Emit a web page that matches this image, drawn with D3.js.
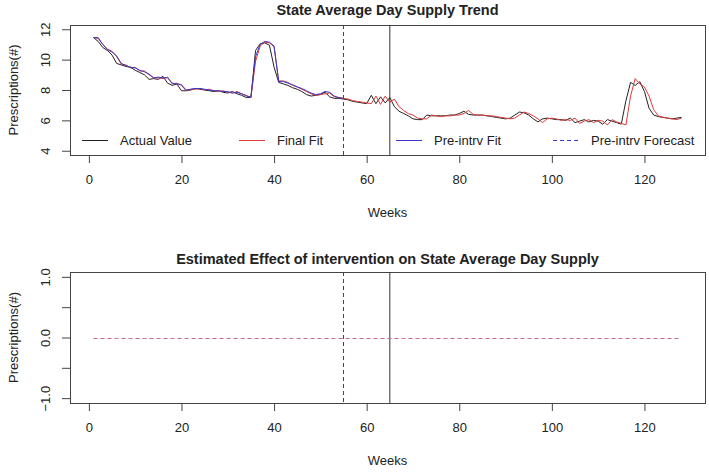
<!DOCTYPE html>
<html><head><meta charset="utf-8">
<script src="https://cdn.jsdelivr.net/npm/d3@7"></script>
<style>body{margin:0;background:#fff}svg{display:block}text{font-family:"Liberation Sans",Arial,sans-serif;fill:#222}</style>
</head><body><svg id="c" width="709" height="473"></svg>
<script>
const weeks = d3.range(1, 129);
const actual = [11.45,11.2,10.8,10.6,10.3,9.75,9.65,9.55,9.5,9.3,9.15,9.0,8.7,8.75,8.7,8.9,8.45,8.3,8.4,7.95,
7.95,8.0,8.1,8.05,8.0,7.95,7.9,7.95,7.85,7.8,7.9,7.75,7.65,7.5,7.5,10.6,11.05,11.1,10.95,9.5,
8.5,8.4,8.3,8.15,8.05,7.9,7.7,7.6,7.65,7.7,7.85,7.55,7.45,7.45,7.4,7.35,7.25,7.2,7.15,7.1,
7.65,7.1,7.55,7.15,7.5,6.9,6.6,6.45,6.3,6.1,6.05,6.05,6.35,6.3,6.3,6.3,6.3,6.35,6.35,6.45,
6.6,6.4,6.35,6.35,6.35,6.3,6.25,6.2,6.15,6.1,6.15,6.35,6.55,6.5,6.35,6.1,5.9,6.1,6.15,6.1,
6.05,6.05,6.0,6.15,5.85,5.95,6.05,5.9,6.0,5.95,5.75,6.05,5.95,5.85,5.75,7.3,8.5,8.3,8.55,7.9,
6.8,6.35,6.25,6.2,6.15,6.1,6.15,6.2];
const finalFit = [11.45,11.4,11.0,10.7,10.55,10.2,9.7,9.65,9.45,9.5,9.25,9.25,9.0,8.8,8.8,8.75,8.85,8.4,8.45,8.3,
7.95,8.05,8.05,8.1,8.0,8.05,7.95,7.9,7.95,7.85,7.8,7.9,7.75,7.65,7.5,9.9,10.9,11.15,11.1,10.85,
8.6,8.6,8.5,8.3,8.2,8.05,7.9,7.75,7.65,7.7,7.75,7.8,7.55,7.5,7.45,7.4,7.3,7.25,7.2,7.15,
7.1,7.6,7.05,7.6,7.2,7.4,6.9,6.65,6.45,6.35,6.15,6.1,6.1,6.35,6.3,6.25,6.3,6.3,6.35,6.35,
6.45,6.65,6.4,6.35,6.35,6.3,6.3,6.25,6.2,6.15,6.1,6.15,6.35,6.55,6.45,6.3,6.1,5.85,6.1,6.15,
6.1,6.0,6.05,6.0,6.15,5.8,5.95,6.05,5.85,6.0,5.95,5.7,6.05,5.9,5.8,5.7,7.6,8.75,8.4,8.2,
7.6,6.7,6.3,6.2,6.15,6.1,6.05,6.15];
const preFit = [11.45,11.45,11.0,10.65,10.5,10.25,9.75,9.6,9.5,9.45,9.3,9.2,9.05,8.8,8.85,8.8,8.8,8.45,8.4,8.35,
8.0,8.05,8.1,8.1,8.05,8.0,7.95,7.95,7.9,7.9,7.8,7.85,7.75,7.6,7.55,10.2,11.0,11.2,11.15,10.9,
8.55,8.55,8.45,8.35,8.2,8.1,7.95,7.8,7.7,7.75,7.9,7.85,7.6,7.5,7.45];
const effect = weeks.map(() => 0);
const xTicks = [0, 20, 40, 60, 80, 100, 120];
const yTicksTop = [4, 6, 8, 10, 12];
const yTicksBot = [-1, -0.5, 0, 0.5, 1];
const yLabelsBot = [-1, 0, 1];
const forecastStart = 55, intervention = 65;
const legendItems = [
  {label: "Actual Value", color: "#222", dash: null},
  {label: "Final Fit", color: "#e03a3a", dash: null},
  {label: "Pre-intrv Fit", color: "#3838c8", dash: null},
  {label: "Pre-intrv Forecast", color: "#3838c8", dash: "4,3"}
];

const svg = d3.select("#c");
const L = 70, R = 705;
const x = d3.scaleLinear().domain([-4.08, 133.08]).range([L, R]);

function panel(top, bottom, yDomain, yTicks, yLabels, fmt, title, titleY) {
  const y = d3.scaleLinear().domain(yDomain).range([bottom, top]);
  const g = svg.append("g");
  const xa = g.append("g").attr("transform", `translate(0,${bottom})`)
    .call(d3.axisBottom(x).tickValues(xTicks).tickSize(8).tickPadding(12).tickFormat(d3.format("d")));
  xa.select(".domain").attr("d", `M${x(0)},0.5H${x(120)}`).attr("stroke", "#444");
  xa.selectAll(".tick line").attr("stroke", "#444");
  xa.selectAll("text").attr("font-size", 13).attr("fill", "#222").style("font-family", "Liberation Sans, Arial, sans-serif");
  const ya = g.append("g").attr("transform", `translate(${L},0)`)
    .call(d3.axisLeft(y).tickValues(yTicks).tickSize(8).tickFormat(d => yLabels.includes(d) ? fmt(d) : ""));
  ya.select(".domain").attr("d", `M0.5,${y(yTicks[0])}V${y(yTicks[yTicks.length-1])}`).attr("stroke", "#444");
  ya.selectAll(".tick line").attr("stroke", "#444");
  ya.selectAll("text").attr("font-size", 13).attr("fill", "#222").attr("x", null).attr("dy", null)
    .attr("text-anchor", "middle").attr("transform", "translate(-25,0) rotate(-90)").attr("dy", "0.35em")
    .style("font-family", "Liberation Sans, Arial, sans-serif");
  g.append("rect").attr("x", L + 0.5).attr("y", top + 0.5).attr("width", R - L).attr("height", bottom - top)
    .attr("fill", "none").attr("stroke", "#444").attr("stroke-width", 1);
  g.append("line").attr("x1", x(forecastStart)).attr("x2", x(forecastStart)).attr("y1", top).attr("y2", bottom)
    .attr("stroke", "#444").attr("stroke-dasharray", "4,3");
  g.append("line").attr("x1", x(intervention)).attr("x2", x(intervention)).attr("y1", top).attr("y2", bottom)
    .attr("stroke", "#333");
  svg.append("text").attr("x", (L + R) / 2).attr("y", titleY).attr("text-anchor", "middle")
    .attr("font-size", 14.5).attr("font-weight", "bold").attr("fill", "#111").text(title);
  svg.append("text").attr("x", (L + R) / 2).attr("y", bottom + 62).attr("text-anchor", "middle")
    .attr("font-size", 13).text("Weeks");
  svg.append("text").attr("transform", `translate(18,${(top + bottom) / 2}) rotate(-90)`)
    .attr("text-anchor", "middle").attr("font-size", 13).text("Prescriptions(#)");
  return {g, y};
}

const p1 = panel(25, 155, [3.72, 12.28], yTicksTop, yTicksTop, d3.format("d"), "State Average Day Supply Trend", 15);
const line1 = d3.line().x((d, i) => x(weeks[i])).y(d => p1.y(d));
p1.g.append("path").datum(actual).attr("d", line1).attr("fill", "none").attr("stroke", "#222").attr("stroke-width", 1);
p1.g.append("path").datum(finalFit).attr("d", line1).attr("fill", "none").attr("stroke", "#e03a3a").attr("stroke-width", 1);
p1.g.append("path").datum(preFit).attr("d", line1).attr("fill", "none").attr("stroke", "#3838c8").attr("stroke-width", 1);

const legX = [82, 239, 396, 553];
const leg = p1.g.append("g").selectAll("g").data(legendItems).join("g")
  .attr("transform", (d, i) => `translate(${legX[i]},140.5)`);
leg.append("line").attr("x1", 0).attr("x2", 26).attr("stroke", d => d.color).attr("stroke-dasharray", d => d.dash);
leg.append("text").attr("x", 38).attr("dy", "0.35em").attr("font-size", 13).text(d => d.label);

const p2 = panel(272, 403, [-1.08, 1.08], yTicksBot, yLabelsBot, d3.format(".1f"), "Estimated Effect of intervention on State Average Day Supply", 264);
const line2 = d3.line().x((d, i) => x(weeks[i])).y(d => Math.round(p2.y(d)) + 0.5);
p2.g.append("path").datum(effect).attr("d", line2).attr("fill", "none").attr("stroke", "#c86482")
  .attr("stroke-width", 1).attr("stroke-dasharray", "4,3");
</script></body></html>
